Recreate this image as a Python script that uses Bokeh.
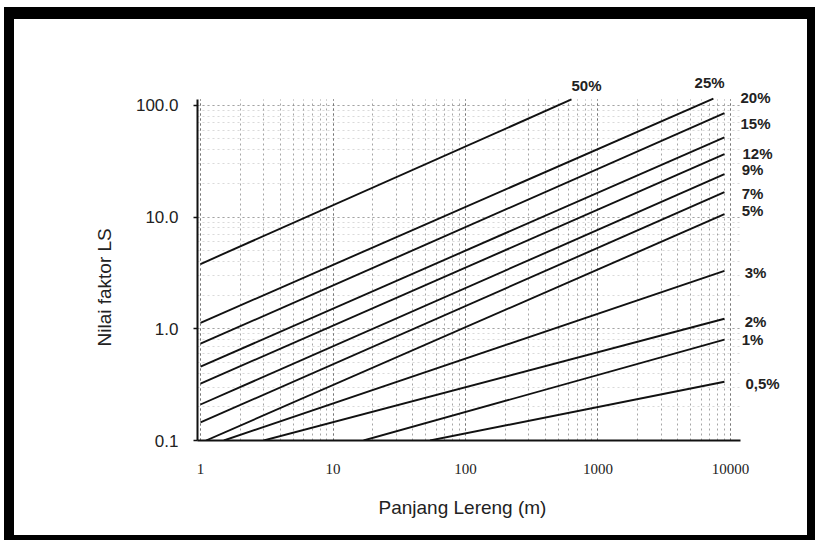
from bokeh.plotting import figure
from bokeh.models import FixedTicker, LogTicker, Label, Title
from bokeh.embed import file_html
from bokeh.resources import INLINE

# Slope classes and their LS lines (start / end points)
slope_labels = ["50%", "25%", "20%", "15%", "12%", "9%", "7%", "5%", "3%", "2%", "1%", "0,5%"]
start_L = [1, 1, 1, 1, 1, 1, 1, 1.1, 1.5, 3, 17, 54]
start_LS = [3.8, 1.13, 0.735, 0.458, 0.323, 0.21, 0.145, 0.1, 0.1, 0.1, 0.1, 0.1]
end_L = [631, 7430, 9000, 9000, 9000, 9000, 9000, 9000, 9000, 9000, 9000, 9000]
end_LS = [113, 115, 85, 51.8, 36.5, 24.2, 16.7, 10.6, 3.3, 1.23, 0.80, 0.336]

# label anchor positions (data coordinates)
label_x = [819, 6950, 15450, 15450, 16000, 14660, 14660, 14660, 15450, 15450, 14660, 17450]
label_y = [151, 160, 118, 69, 37.3, 26.8, 16.4, 11.5, 3.16, 1.155, 0.797, 0.323]

x_ticks = [1, 10, 100, 1000, 10000]
x_tick_labels = ["1", "10", "100", "1000", "10000"]
y_ticks = [0.1, 1, 10, 100]
y_tick_labels = ["0.1", "1.0", "10.0", "100.0"]
x_axis_bounds = (0.949, 11900)
y_axis_bounds = (0.1, 113)

p = figure(width=793, height=516, x_axis_type="log", y_axis_type="log",
           x_range=(0.949, 30950), y_range=(0.1, 252),
           output_backend="svg", toolbar_location=None,
           min_border_left=183, min_border_right=30,
           min_border_top=41, min_border_bottom=112)
p.styles = {"margin": "7px 0px 0px 4px", "box-sizing": "content-box",
            "overflow": "hidden",
            "border-style": "solid", "border-color": "black",
            "border-width": "12px 8px 5px 10px"}
p.outline_line_color = None
p.background_fill_color = "white"
p.border_fill_color = "white"

# grids
p.xgrid.ticker = LogTicker(num_minor_ticks=10)
p.ygrid.ticker = LogTicker(num_minor_ticks=10)
p.xgrid.bounds = x_axis_bounds
p.ygrid.bounds = y_axis_bounds
p.xgrid.cross_bounds = y_axis_bounds
p.ygrid.cross_bounds = x_axis_bounds
for g in (p.xgrid, p.ygrid):
    g.grid_line_color = "#6a6a6a"
    g.grid_line_dash = "2 3"
    g.minor_grid_line_color = "#6a6a6a"
    g.minor_grid_line_dash = "2 3"
p.xgrid.grid_line_alpha = 0.6
p.xgrid.minor_grid_line_alpha = 0.6
p.ygrid.grid_line_alpha = 0.3
p.ygrid.minor_grid_line_alpha = 0.25

# x axis
xa = p.xaxis[0]
xa.bounds = x_axis_bounds
xa.ticker = FixedTicker(ticks=x_ticks, minor_ticks=[])
xa.major_label_overrides = {t: s for t, s in zip(x_ticks, x_tick_labels)}
xa.major_tick_line_color = None
xa.minor_tick_line_color = None
xa.major_tick_out = 0
xa.major_tick_in = 0
xa.major_label_standoff = 23
xa.major_label_text_font = "Liberation Serif"
xa.major_label_text_font_size = "15px"
xa.major_label_text_color = "#222222"
xa.axis_line_width = 2
xa.axis_line_color = "#111111"

# y axis
ya = p.yaxis[0]
ya.bounds = y_axis_bounds
ya.ticker = FixedTicker(ticks=y_ticks, minor_ticks=[])
ya.major_label_overrides = {t: s for t, s in zip(y_ticks, y_tick_labels)}
ya.major_tick_out = 4
ya.major_tick_in = 0
ya.major_tick_line_width = 1.5
ya.major_tick_line_color = "#111111"
ya.minor_tick_line_color = None
ya.major_label_standoff = 15
ya.major_label_text_font = "Liberation Sans"
ya.major_label_text_font_size = "17px"
ya.major_label_text_color = "#222222"
ya.axis_line_width = 2
ya.axis_line_color = "#111111"

# axis titles (placed as titles so they can sit off-centre like the original)
p.add_layout(Title(text="Panjang Lereng (m)", align="left", offset=181,
                   vertical_align="bottom", standoff=36,
                   text_font="Liberation Sans", text_font_style="normal",
                   text_font_size="19px", text_color="#222222"), "below")
p.add_layout(Title(text="Nilai faktor LS", align="left", offset=94,
                   vertical_align="bottom", standoff=36,
                   text_font="Liberation Sans", text_font_style="normal",
                   text_font_size="19px", text_color="#222222"), "left")

# LS lines
for x0, y0, x1, y1 in zip(start_L, start_LS, end_L, end_LS):
    p.line([x0, x1], [y0, y1], line_color="#111111", line_width=1.9)

# slope labels
for txt, lx, ly in zip(slope_labels, label_x, label_y):
    p.add_layout(Label(x=lx, y=ly, text=txt, text_align="center", text_baseline="middle",
                       text_font="Liberation Sans", text_font_size="15px",
                       text_font_style="bold", text_color="#222222"))

open("out.html", "w").write(file_html(p, INLINE))
